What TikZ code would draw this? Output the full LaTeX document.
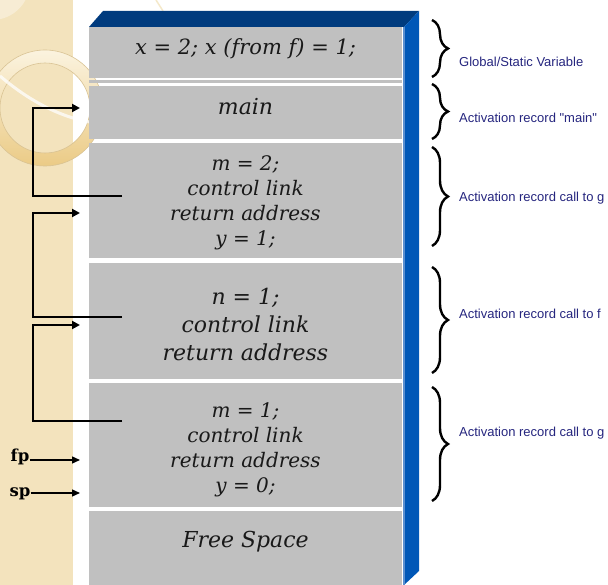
\documentclass[tikz,border=0pt]{standalone}
\usepackage{fontspec}
\setmainfont{DejaVu Serif}
\newfontfamily\labelfont{Liberation Sans}
\usetikzlibrary{arrows.meta,decorations.pathreplacing,calc}

\definecolor{strip}{HTML}{F3E3BD}
\definecolor{ringlight}{HTML}{FBF3DF}
\definecolor{ringdark}{HTML}{EBCB86}
\definecolor{ringedge}{HTML}{D9C394}
\definecolor{cellgray}{HTML}{C0C0C0}
\definecolor{topface}{HTML}{003B7E}
\definecolor{sideface}{HTML}{0057B7}
\definecolor{sideedge}{HTML}{5A8FD0}
\definecolor{labelblue}{HTML}{26267F}

\tikzset{
  cell/.style={rectangle, fill=cellgray, draw=none, inner sep=0pt,
               minimum width=313pt},
  celltext/.style={align=center, text=black!90, inner sep=0pt},
  bigtext/.style={celltext, font=\fontsize{22}{28}\selectfont\itshape},
  smalltext/.style={celltext, font=\fontsize{20}{25}\selectfont\itshape},
  recbrace/.style={draw=black, line width=2.4pt,
                   decorate, decoration={brace, amplitude=16pt}},
  reclabel/.style={anchor=west, inner sep=0pt, text=labelblue,
                   font=\labelfont\fontsize{13}{15}\selectfont},
  ctllink/.style={draw=black, line width=2.2pt,
                  -{Triangle[length=8pt,width=8pt]}},
  ptrarrow/.style={draw=black, line width=1.4pt,
                   -{Triangle[length=8pt,width=7pt]}},
  ptrname/.style={inner sep=0pt, font=\fontsize{16.5}{18}\selectfont\bfseries}
}

\begin{document}
\begin{tikzpicture}[x=1pt,y=-1pt]
\useasboundingbox (0,0) rectangle (608,585);
\fill[white] (0,0) rectangle (608,585);

% decorative left strip with its ring
\fill[strip] (0,0) rectangle (73,585);
\fill[white, opacity=0.35] (-8,-18) circle (38);
\shade[even odd rule, top color=ringlight, bottom color=ringdark]
  (45,108) circle (58) (45,108) circle (45);
\draw[ringedge, line width=0.6pt] (45,108) circle (58) (45,108) circle (45);
\draw[white, line width=3pt, opacity=0.75]
  (0,76) .. controls (28,100) and (58,116) .. (89,122);
\draw[strip!80!white, line width=1.5pt] (156,0) .. controls (159,5) .. (163,11);

% stack cells
\node[cell, minimum height=51pt]  (b1) at (245.5,52.5) {};
\fill[cellgray] (89,80) rectangle (402,83);
\node[cell, minimum height=53pt]  (b2) at (245.5,112.5) {};
\node[cell, minimum height=115pt] (b3) at (245.5,200.5) {};
\node[cell, minimum height=116pt] (b4) at (245.5,321) {};
\node[cell, minimum height=124pt] (b5) at (245.5,445) {};
\node[cell, minimum height=74pt]  (b6) at (245.5,548) {};

% 3-D frame of the stack
\draw[white, line width=1pt] (402.5,27) -- (402.5,585);
\fill[topface] (89,27) -- (103,11) -- (419,11) -- (404,27) -- cycle;
\fill[sideface] (404,27) -- (419,11) -- (419,571) -- (404,585) -- cycle;
\draw[sideedge, line width=1.2pt] (404,27) -- (404,585);

% cell contents
\node[celltext, font=\fontsize{21}{26}\selectfont\itshape] (t1) at (245.5,49) {x = 2; x (from f) = 1;};
\node[bigtext] (t2) at (245.5,107) {main};
\node[smalltext] (t3) at (245.5,203) {m = 2;\\control link\\return address\\y = 1;};
\node[bigtext] (t4) at (245.5,324.5) {n = 1;\\control link\\return address};
\node[smalltext] (t5) at (245.5,449.5) {m = 1;\\control link\\return address\\y = 0;};
\node[bigtext] (t6) at (245.5,542) {Free Space};

% braces and record labels
\coordinate (r1a) at (432,20);  \coordinate (r1b) at (432,77);
\coordinate (r2a) at (432,84);  \coordinate (r2b) at (432,139);
\coordinate (r3a) at (432,147); \coordinate (r3b) at (432,246);
\coordinate (r4a) at (432,267); \coordinate (r4b) at (432,373);
\coordinate (r5a) at (432,387); \coordinate (r5b) at (432,501);
\draw[recbrace] (r1a) -- (r1b);
\draw[recbrace] (r2a) -- (r2b);
\draw[recbrace] (r3a) -- (r3b);
\draw[recbrace] (r4a) -- (r4b);
\draw[recbrace] (r5a) -- (r5b);
\node[reclabel] (l1) at (459,62)  {Global/Static Variable};
\node[reclabel] (l2) at (459,118) {Activation record "main"};
\node[reclabel] (l3) at (459,198) {Activation record call to g};
\node[reclabel] (l4) at (459,314) {Activation record call to f};
\node[reclabel] (l5) at (459,433) {Activation record call to g};

% control links
\coordinate (c3) at (122,196); \coordinate (k2) at (33,108); \coordinate (a2) at (80,108);
\coordinate (c4) at (122,317); \coordinate (k3) at (33,213); \coordinate (a3) at (80,213);
\coordinate (c5) at (122,421); \coordinate (k4) at (33,325); \coordinate (a4) at (80,325);
\draw[ctllink] (c3) -| (k2) -- (a2);
\draw[ctllink] (c4) -| (k3) -- (a3);
\draw[ctllink] (c5) -| (k4) -- (a4);

% frame and stack pointers
\node[ptrname] (fp) at (20,457) {fp};
\node[ptrname] (sp) at (20,494) {sp};
\coordinate (fpt) at (80,460);
\coordinate (spt) at (80,493);
\draw[ptrarrow] (fp.east |- fpt) -- (fpt);
\draw[ptrarrow] (sp.east |- spt) -- (spt);
\end{tikzpicture}
\end{document}
